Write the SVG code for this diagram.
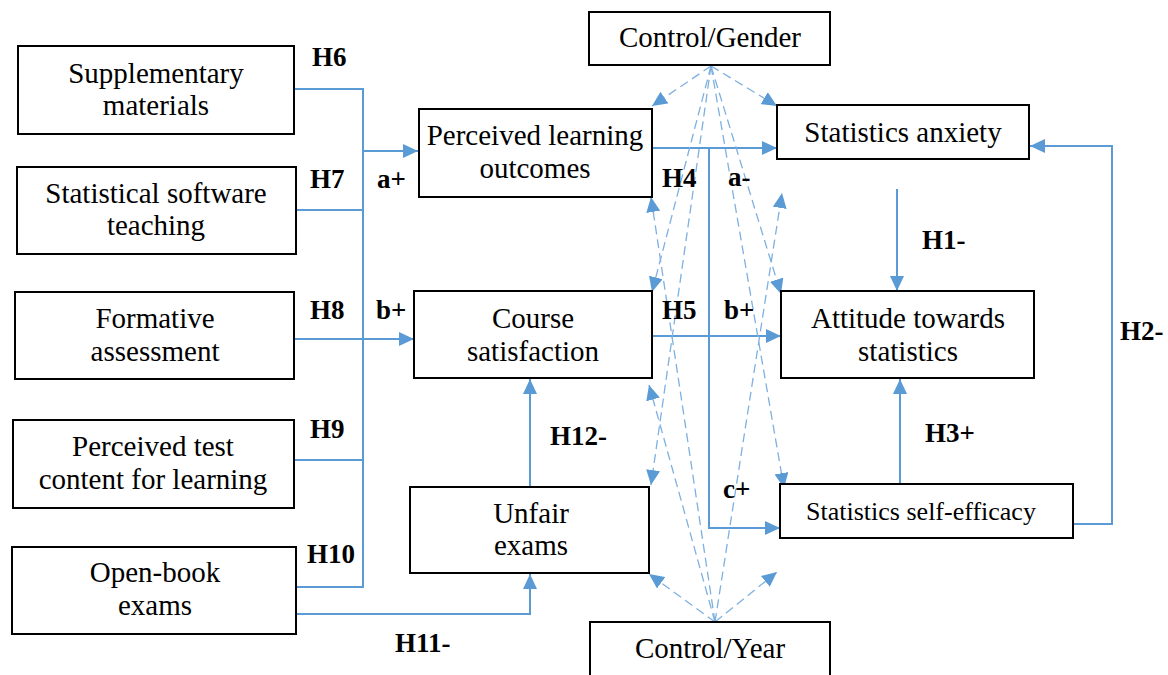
<svg xmlns="http://www.w3.org/2000/svg" width="1168" height="675" viewBox="0 0 1168 675">
<style>
.box{fill:#fff;stroke:#000;stroke-width:2}
.t{font-family:'Liberation Serif','Times New Roman','DejaVu Serif',serif;font-size:29px;fill:#000;text-anchor:middle}
.ts{font-size:26px}
.lb{font-family:'Liberation Serif','Times New Roman','DejaVu Serif',serif;font-size:27px;font-weight:bold;fill:#000}
.c{fill:none;stroke:#5B9BD5;stroke-width:2}
.d{fill:none;stroke:#7EB0E0;stroke-width:1.3;stroke-dasharray:9 5}
</style>
<defs>
<marker id="ah" markerUnits="userSpaceOnUse" markerWidth="16" markerHeight="14" refX="15" refY="7" orient="auto">
<path d="M0,0 L15,7 L0,14 Z" fill="#5B9BD5"/>
</marker>
</defs>
<rect width="1168" height="675" fill="#fff"/>
<g id="connectors">
<path class="c" d="M294,89 H363 V587 H296"/>
<path class="c" d="M363,151 H418" marker-end="url(#ah)"/>
<path class="c" d="M296,210 H363"/>
<path class="c" d="M293,339 H414" marker-end="url(#ah)"/>
<path class="c" d="M293,460 H363"/>
<path class="c" d="M293,614 H530 V574" marker-end="url(#ah)"/>
<path class="c" d="M530,487 V379" marker-end="url(#ah)"/>
<path class="c" d="M652,148 H777" marker-end="url(#ah)"/>
<path class="c" d="M709,148 V528 H780" marker-end="url(#ah)"/>
<path class="c" d="M652,336 H781" marker-end="url(#ah)"/>
<path class="c" d="M897,189 V291" marker-end="url(#ah)"/>
<path class="c" d="M900,484 V379" marker-end="url(#ah)"/>
<path class="c" d="M1073,524 H1112 V146 H1030" marker-end="url(#ah)"/>
<g id="dashed">
<path class="d" d="M711,66 L652,106" marker-end="url(#ah)"/>
<path class="d" d="M711,66 L777,106" marker-end="url(#ah)"/>
<path class="d" d="M711,66 L652,292" marker-end="url(#ah)"/>
<path class="d" d="M711,66 L781,294" marker-end="url(#ah)"/>
<path class="d" d="M711,66 L651,485" marker-end="url(#ah)"/>
<path class="d" d="M711,66 L784,488" marker-end="url(#ah)"/>
<path class="d" d="M715,622 L649,574" marker-end="url(#ah)"/>
<path class="d" d="M715,622 L777,572" marker-end="url(#ah)"/>
<path class="d" d="M715,622 L649,385" marker-end="url(#ah)"/>
<path class="d" d="M715,622 L651,197" marker-end="url(#ah)"/>
<path class="d" d="M715,622 L782,193" marker-end="url(#ah)"/>
</g>
</g>
<g font-family="Liberation Serif, serif">
<g id="n-supp"><rect class="box" x="18" y="46" width="276" height="88"/><text class="t" x="156" y="83">Supplementary</text><text class="t" x="156" y="115">materials</text></g>
<g id="n-soft"><rect class="box" x="17" y="167" width="279" height="87"/><text class="t" x="156" y="203">Statistical software</text><text class="t" x="156" y="235">teaching</text></g>
<g id="n-form"><rect class="box" x="15" y="292" width="279" height="87"/><text class="t" x="155" y="328">Formative</text><text class="t" x="155" y="361">assessment</text></g>
<g id="n-test"><rect class="box" x="13" y="420" width="281" height="88"/><text class="t" x="153" y="456">Perceived test</text><text class="t" x="153" y="489">content for learning</text></g>
<g id="n-open"><rect class="box" x="12" y="547" width="284" height="87"/><text class="t" x="155" y="582">Open-book</text><text class="t" x="155" y="615">exams</text></g>
<g id="n-plo"><rect class="box" x="419" y="109" width="233" height="88"/><text class="t" x="535" y="145">Perceived learning</text><text class="t" x="535" y="178">outcomes</text></g>
<g id="n-cs"><rect class="box" x="414" y="291" width="238" height="87"/><text class="t" x="533" y="328">Course</text><text class="t" x="533" y="361">satisfaction</text></g>
<g id="n-unfair"><rect class="box" x="410" y="487" width="239" height="86"/><text class="t" x="531" y="523">Unfair</text><text class="t" x="531" y="555">exams</text></g>
<g id="n-anx"><rect class="box" x="777" y="105" width="252" height="54"/><text class="t" x="903" y="142">Statistics anxiety</text></g>
<g id="n-att"><rect class="box" x="781" y="291" width="253" height="87"/><text class="t" x="908" y="328">Attitude towards</text><text class="t" x="908" y="361">statistics</text></g>
<g id="n-se"><rect class="box" x="780" y="484" width="293" height="54"/><text class="t ts" x="921" y="520">Statistics self-efficacy</text></g>
<g id="n-gender"><rect class="box" x="589" y="12" width="241" height="53"/><text class="t" x="710" y="47">Control/Gender</text></g>
<g id="n-year"><rect class="box" x="590" y="622" width="240" height="60"/><text class="t" x="710" y="658">Control/Year</text></g>
<g id="labels">
<text class="lb" x="312" y="66">H6</text>
<text class="lb" x="310" y="188">H7</text>
<text class="lb" x="377" y="188">a+</text>
<text class="lb" x="310" y="319">H8</text>
<text class="lb" x="376" y="319">b+</text>
<text class="lb" x="310" y="438">H9</text>
<text class="lb" x="307" y="563">H10</text>
<text class="lb" x="395" y="652">H11-</text>
<text class="lb" x="550" y="445">H12-</text>
<text class="lb" x="662" y="187">H4</text>
<text class="lb" x="728" y="186">a-</text>
<text class="lb" x="662" y="319">H5</text>
<text class="lb" x="724" y="319">b+</text>
<text class="lb" x="723" y="498">c+</text>
<text class="lb" x="922" y="249">H1-</text>
<text class="lb" x="925" y="442">H3+</text>
<text class="lb" x="1120" y="340">H2-</text>
</g>
</g>
</svg>
